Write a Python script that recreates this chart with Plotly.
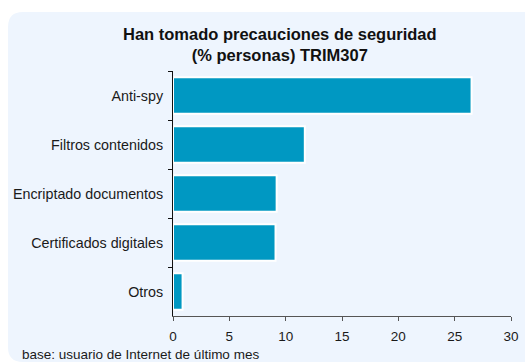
import plotly.graph_objects as go

# Survey results: share of people who have taken each security measure
categories = ["Anti-spy", "Filtros contenidos", "Encriptado documentos",
              "Certificados digitales", "Otros"]
values = [26.5, 11.7, 9.2, 9.1, 0.85]
x_ticks = [0, 5, 10, 15, 20, 25, 30]

title_text = "<b>Han tomado precauciones de seguridad<br>(% personas) TRIM307</b>"
note_text = "base: usuario de Internet de último mes"

W, H = 525, 363
L, R, T, B = 173, 14, 71, 47
pw, ph = W - L - R, H - T - B


def px2paper(x, y):
    return (x - L) / pw, (H - B - y) / ph


def P(x, y):
    a, b = px2paper(x, y)
    return f"{a:.5f},{b:.5f}"


# rounded panel behind the whole chart
x0, y0, x1, y1, r = 8, 12, 545, 362, 15
path = (f"M {P(x0, y0 + r)} Q {P(x0, y0)} {P(x0 + r, y0)} "
        f"L {P(x1, y0)} L {P(x1, y1)} L {P(x0 + r, y1)} "
        f"Q {P(x0, y1)} {P(x0, y1 - r)} Z")

fig = go.Figure(go.Bar(
    x=values, y=categories, orientation="h",
    marker=dict(color="#0098c2", line=dict(color="white", width=2)),
    width=0.74,
))

fig.update_layout(
    width=W, height=H,
    margin=dict(l=L, r=R, t=T, b=B),
    paper_bgcolor="white", plot_bgcolor="rgba(0,0,0,0)",
    font=dict(family="Liberation Sans, Arial, sans-serif", size=14, color="#1a1a1a"),
    showlegend=False,
    shapes=[dict(type="path", path=path, xref="paper", yref="paper",
                 fillcolor="#eef5fe", line=dict(width=0), layer="below")],
    annotations=[
        dict(text=title_text, xref="paper", yref="paper",
             x=px2paper(280, 0)[0], y=px2paper(0, 44)[1],
             xanchor="center", yanchor="middle", showarrow=False,
             font=dict(size=16.5, color="#111111")),
        dict(text=note_text, xref="paper", yref="paper",
             x=px2paper(20, 0)[0], y=px2paper(0, 354)[1],
             xanchor="left", yanchor="middle", showarrow=False,
             font=dict(size=13.5, color="#1a1a1a")),
    ],
)

fig.update_xaxes(
    range=[0, 30], tickvals=x_ticks, showgrid=False, zeroline=False,
    showline=True, linecolor="#555555", linewidth=1,
    ticks="outside", ticklen=4, tickcolor="#555555",
    tickfont=dict(size=13.5), ticklabelstandoff=4, automargin=False,
)
fig.update_yaxes(
    autorange="reversed", showgrid=False, zeroline=False,
    showline=True, linecolor="#111111", linewidth=1,
    ticks="outside", ticklen=4, tickcolor="#111111", tickson="boundaries",
    tickfont=dict(size=14.3), ticklabelstandoff=6, automargin=False,
)

fig.write_html("out.html")
